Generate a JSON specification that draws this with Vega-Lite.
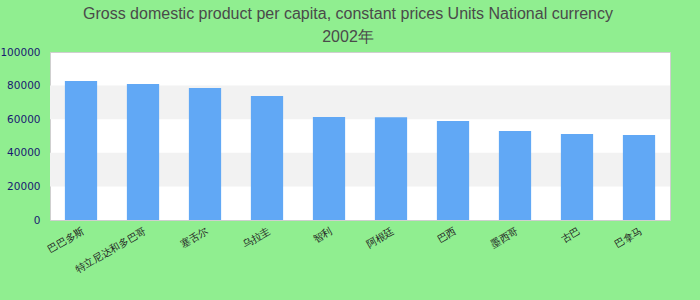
{
  "$schema": "https://vega.github.io/schema/vega-lite/v6.json",
  "width": 620,
  "height": 168,
  "autosize": {"type": "none"},
  "padding": {"left": 50, "top": 52, "right": 30, "bottom": 80},
  "background": "#90EE90",
  "title": {
    "text": ["Gross domestic product per capita, constant prices Units National currency", "2002年"],
    "anchor": "middle",
    "dx": -12,
    "offset": 2,
    "font": "Liberation Sans",
    "fontSize": 16,
    "fontWeight": "normal",
    "color": "#4a4a4a",
    "lineHeight": 23
  },
  "datasets": {
    "gdp": [
      {"country": "巴巴多斯", "value": 82700},
      {"country": "特立尼达和多巴哥", "value": 81000},
      {"country": "塞舌尔", "value": 78600},
      {"country": "乌拉圭", "value": 73800},
      {"country": "智利", "value": 61300},
      {"country": "阿根廷", "value": 61200},
      {"country": "巴西", "value": 58900},
      {"country": "墨西哥", "value": 53000},
      {"country": "古巴", "value": 51200},
      {"country": "巴拿马", "value": 50600}
    ],
    "bands": [
      {"lo": 20000, "hi": 40000},
      {"lo": 60000, "hi": 80000}
    ]
  },
  "config": {
    "view": {"fill": "white", "stroke": "#cfcfcf", "strokeWidth": 1}
  },
  "layer": [
    {
      "data": {"name": "bands"},
      "mark": {"type": "rect", "color": "#f2f2f2"},
      "encoding": {
        "y": {"field": "lo", "type": "quantitative", "scale": {"domain": [0, 100000]}},
        "y2": {"field": "hi"}
      }
    },
    {
      "data": {"name": "gdp"},
      "mark": {"type": "bar", "color": "#61a8f5"},
      "encoding": {
        "x": {
          "field": "country",
          "type": "nominal",
          "sort": null,
          "scale": {"paddingInner": 0.48, "paddingOuter": 0.24},
          "axis": {
            "title": null,
            "labelAngle": -30,
            "labelFont": "DejaVu Sans",
            "labelFontSize": 10,
            "labelColor": "#222222",
            "ticks": false,
            "domain": false,
            "labelPadding": 6
          }
        },
        "y": {
          "field": "value",
          "type": "quantitative",
          "scale": {"domain": [0, 100000]},
          "axis": {
            "title": null,
            "grid": false,
            "ticks": false,
            "domain": false,
            "tickCount": 5,
            "format": "d",
            "labelFont": "DejaVu Sans",
            "labelFontSize": 10.5,
            "labelColor": "#191970",
            "labelPadding": 10
          }
        }
      }
    }
  ]
}
